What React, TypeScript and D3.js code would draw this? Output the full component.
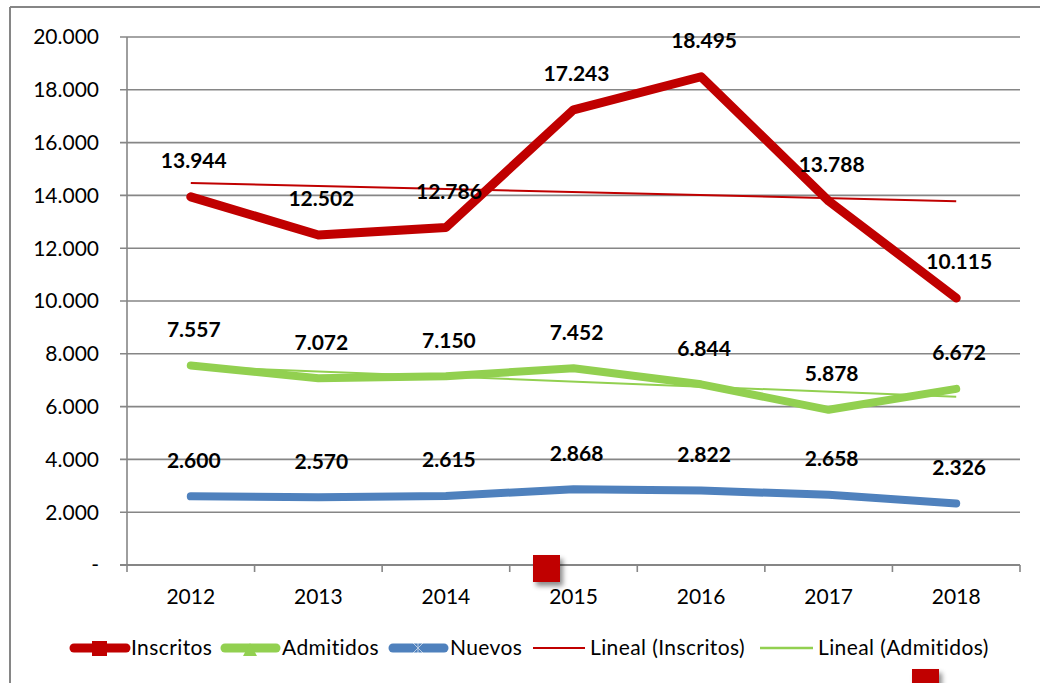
import React from 'react';
import * as d3 from 'd3';

const years = ['2012', '2013', '2014', '2015', '2016', '2017', '2018'];
const inscritos = [13944, 12502, 12786, 17243, 18495, 13788, 10115];
const admitidos = [7557, 7072, 7150, 7452, 6844, 5878, 6672];
const nuevos = [2600, 2570, 2615, 2868, 2822, 2658, 2326];
const yTicks = [0, 2000, 4000, 6000, 8000, 10000, 12000, 14000, 16000, 18000, 20000];

const RED = '#C00000';
const GREEN = '#92D050';
const BLUE = '#4F81BD';
const GRID = '#868686';
const FONT = 'Lato, "Open Sans", sans-serif';

const fmt = (v: number) => (v === 0 ? '-' : d3.format(',')(v).replace(/,/g, '.'));

function trend(vals: number[]) {
  const n = vals.length;
  const xs = vals.map((_, i) => i);
  const mx = d3.mean(xs) as number;
  const my = d3.mean(vals) as number;
  const slope = d3.sum(xs, (x, i) => (x - mx) * (vals[i] - my)) / d3.sum(xs, (x) => (x - mx) ** 2);
  return [my - slope * mx, my + slope * (n - 1 - mx)];
}

export default function App() {
  const W = 1040;
  const H = 683;
  const x = d3.scaleBand<string>().domain(years).range([127, 1020]).padding(0);
  const cx = (i: number) => (x(years[i]) as number) + x.bandwidth() / 2;
  const y = d3.scaleLinear().domain([0, 20000]).range([565, 37]);
  const line = d3
    .line<number>()
    .x((_, i) => cx(i))
    .y((d) => y(d));

  const series = [
    { name: 'Inscritos', vals: inscritos, color: RED, w: 9 },
    { name: 'Admitidos', vals: admitidos, color: GREEN, w: 8 },
    { name: 'Nuevos', vals: nuevos, color: BLUE, w: 8 },
  ];
  const trends = [
    { vals: inscritos, color: RED },
    { vals: admitidos, color: GREEN },
  ];

  const bounds = [...years.map((yr) => x(yr) as number), 1020];

  return (
    <div style={{ position: 'fixed', left: 0, top: 0 }}>
      <svg width={W} height={H} style={{ display: 'block', background: '#fff' }}>
        <defs>
          <filter id="sh" x="-30%" y="-30%" width="180%" height="180%">
            <feDropShadow dx="3" dy="4" stdDeviation="2.5" floodColor="#000" floodOpacity="0.45" />
          </filter>
        </defs>
        {/* outer frame */}
        <line x1={10} y1={7} x2={W} y2={7} stroke={GRID} strokeWidth={2} />
        <line x1={10} y1={7} x2={10} y2={H} stroke={GRID} strokeWidth={2} />

        {/* gridlines */}
        {yTicks.map((t) => (
          <g key={t}>
            <line x1={120} x2={1020} y1={y(t)} y2={y(t)} stroke={GRID} strokeWidth={t === 0 ? 2 : 1.6} />
            <text x={99} y={y(t)} dy="0.35em" textAnchor="end" fontFamily={FONT} fontSize={21} fill="#000">
              {fmt(t)}
            </text>
          </g>
        ))}
        <line x1={127} x2={127} y1={37} y2={565} stroke={GRID} strokeWidth={1.6} />
        {bounds.map((b, i) => (
          <line key={i} x1={b} x2={b} y1={565} y2={572} stroke={GRID} strokeWidth={1.6} />
        ))}
        {years.map((yr, i) => (
          <text key={yr} x={cx(i)} y={604} textAnchor="middle" fontFamily={FONT} fontSize={21} fill="#000">
            {yr}
          </text>
        ))}

        {/* series */}
        {series.map((s) => (
          <path
            key={s.name}
            d={line(s.vals) as string}
            fill="none"
            stroke={s.color}
            strokeWidth={s.w}
            strokeLinecap="round"
            strokeLinejoin="round"
          />
        ))}
        {trends.map((t, k) => {
          const [a, b] = trend(t.vals);
          return <line key={k} x1={cx(0)} x2={cx(6)} y1={y(a)} y2={y(b)} stroke={t.color} strokeWidth={2} />;
        })}

        {/* labels */}
        {series.map((s) =>
          s.vals.map((v, i) => (
            <text
              key={s.name + i}
              x={cx(i) + 3}
              y={y(v) - 36}
              dy="0.35em"
              textAnchor="middle"
              fontFamily={FONT}
              fontWeight="bold"
              fontSize={21}
              fill="#000"
            >
              {fmt(v)}
            </text>
          ))
        )}

        {/* stray markers */}
        <rect x={533} y={555} width={27} height={27} fill={RED} filter="url(#sh)" />
        <rect x={912} y={669} width={27} height={27} fill={RED} filter="url(#sh)" />

        {/* legend */}
        <g fontFamily={FONT} fontSize={21} letterSpacing={0.4} fill="#000">
          <line x1={74} x2={126} y1={648} y2={648} stroke={RED} strokeWidth={9} strokeLinecap="round" />
          <rect x={92} y={641} width={15} height={15} fill={RED} />
          <text x={131} y={648} dy="0.35em">Inscritos</text>

          <line x1={225} x2={276} y1={648} y2={648} stroke={GREEN} strokeWidth={9} strokeLinecap="round" />
          <path d="M243,656 L250,643 L257,656 Z" fill={GREEN} />
          <text x={282} y={648} dy="0.35em">Admitidos</text>

          <line x1={393} x2={444} y1={648} y2={648} stroke={BLUE} strokeWidth={9} strokeLinecap="round" />
          <path d="M412,642 L424,654 M412,654 L424,642 M418,641 L418,655" stroke="#fff" strokeWidth={1} opacity={0.6} />
          <text x={450} y={648} dy="0.35em">Nuevos</text>

          <line x1={533} x2={585} y1={648} y2={648} stroke={RED} strokeWidth={2} />
          <text x={590} y={648} dy="0.35em">Lineal (Inscritos)</text>

          <line x1={760} x2={813} y1={648} y2={648} stroke={GREEN} strokeWidth={2.5} />
          <text x={818} y={648} dy="0.35em">Lineal (Admitidos)</text>
        </g>
      </svg>
    </div>
  );
}
